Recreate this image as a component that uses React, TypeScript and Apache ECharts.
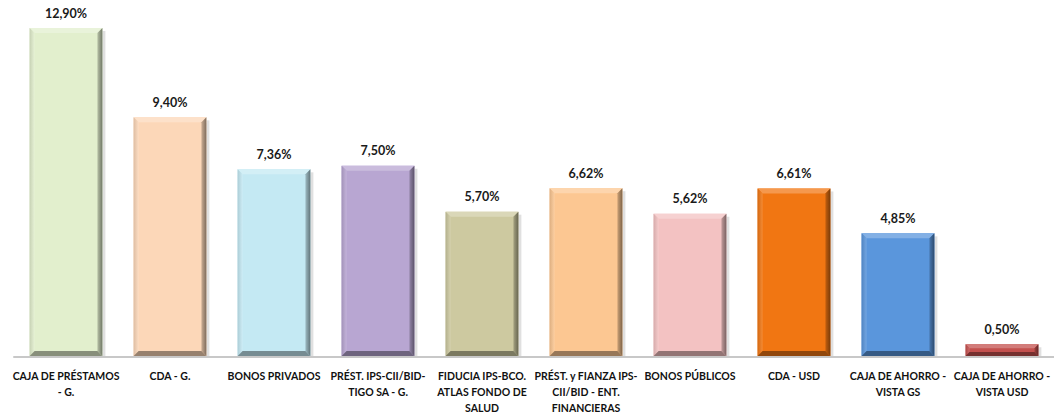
import React, { useEffect, useRef } from "react";
import * as echarts from "echarts";

const categories = [
  "CAJA DE PRÉSTAMOS\n- G.",
  "CDA - G.",
  "BONOS PRIVADOS",
  "PRÉST. IPS-CII/BID-\nTIGO SA - G.",
  "FIDUCIA IPS-BCO.\nATLAS FONDO DE\nSALUD",
  "PRÉST. y FIANZA IPS-\nCII/BID - ENT.\nFINANCIERAS",
  "BONOS PÚBLICOS",
  "CDA - USD",
  "CAJA DE AHORRO -\nVISTA GS",
  "CAJA DE AHORRO -\nVISTA USD",
];
const values = [12.9, 9.4, 7.36, 7.5, 5.7, 6.62, 5.62, 6.61, 4.85, 0.5];
const colors = [
  "#e2efcd",
  "#fcd7b8",
  "#c4e9f3",
  "#b8a6d2",
  "#cdc9a0",
  "#fcc792",
  "#f3c2c2",
  "#f17612",
  "#5a96dc",
  "#c3504e",
];

const FONT = "Lato, 'Liberation Sans', sans-serif";

function shade(hex: string, f: number): string {
  const n = parseInt(hex.slice(1), 16);
  let r = (n >> 16) & 255, g = (n >> 8) & 255, b = n & 255;
  if (f >= 0) {
    r = r + (255 - r) * f; g = g + (255 - g) * f; b = b + (255 - b) * f;
  } else {
    r = r * (1 + f); g = g * (1 + f); b = b * (1 + f);
  }
  return `rgb(${Math.round(r)},${Math.round(g)},${Math.round(b)})`;
}

const fmt = (v: number) => v.toFixed(2).replace(".", ",") + "%";

export default function App() {
  const ref = useRef<HTMLDivElement>(null);
  useEffect(() => {
    if (!ref.current) return;
    const chart = echarts.init(ref.current, null, { renderer: "svg" });
    chart.setOption({
      animation: false,
      grid: { left: 14, width: 1042, top: 0, bottom: 58, containLabel: false },
      xAxis: {
        type: "category",
        data: categories,
        axisLine: { lineStyle: { color: "#c8c8c8", width: 2 } },
        axisTick: { show: false },
        axisLabel: {
          interval: 0,
          margin: 11,
          color: "#111111",
          fontWeight: "bold",
          fontSize: 10.5,
          fontFamily: FONT,
          lineHeight: 16,
          verticalAlign: "top",
        },
      },
      yAxis: {
        type: "value",
        min: 0,
        max: 14,
        show: false,
        splitLine: { show: false },
      },
      series: [
        {
          type: "custom",
          data: values.map((v, i) => [i, v]),
          z: 3,
          renderItem: (params: any, api: any) => {
            const idx = api.value(0);
            const v = api.value(1);
            const top = api.coord([idx, v]);
            const base = api.coord([idx, 0]);
            const bw = api.size([1, 0])[0] * 0.7;
            const x0 = top[0] - bw / 2;
            const x1 = top[0] + bw / 2;
            const y0 = top[1];
            const y1 = base[1] - 1;
            const h = y1 - y0;
            const b = Math.min(5, h / 3);
            const c = colors[params.dataIndex];
            return {
              type: "group",
              children: [
                {
                  type: "rect",
                  shape: { x: x1, y: y0 + 3, width: 3, height: h - 3 },
                  style: { fill: "rgba(0,0,0,0.12)" },
                },
                {
                  type: "rect",
                  shape: { x: x0, y: y0, width: bw, height: h },
                  style: { fill: c },
                },
                {
                  type: "polygon",
                  shape: { points: [[x0, y0], [x1, y0], [x1 - b, y0 + b], [x0 + b, y0 + b]] },
                  style: { fill: shade(c, 0.25) },
                },
                {
                  type: "polygon",
                  shape: { points: [[x0, y0], [x0 + b, y0 + b], [x0 + b, y1 - b], [x0, y1]] },
                  style: {
                    fill: new echarts.graphic.LinearGradient(0, 0, 1, 0, [
                      { offset: 0, color: shade(c, -0.12) },
                      { offset: 1, color: shade(c, 0.15) },
                    ]),
                  },
                },
                {
                  type: "polygon",
                  shape: { points: [[x1, y0], [x1 - b, y0 + b], [x1 - b, y1 - b], [x1, y1]] },
                  style: {
                    fill: new echarts.graphic.LinearGradient(0, 0, 1, 0, [
                      { offset: 0, color: shade(c, -0.2) },
                      { offset: 1, color: shade(c, -0.5) },
                    ]),
                  },
                },
                {
                  type: "polygon",
                  shape: { points: [[x0, y1], [x0 + b, y1 - b], [x1 - b, y1 - b], [x1, y1]] },
                  style: { fill: shade(c, -0.4) },
                },
                {
                  type: "text",
                  x: top[0],
                  y: y0 - 15,
                  style: {
                    text: fmt(v),
                    textAlign: "center",
                    textVerticalAlign: "middle",
                    fill: "#1a1a1a",
                    font: `bold 12.5px ${FONT}`,
                  },
                },
              ],
            };
          },
        },
      ],
    });
    return () => chart.dispose();
  }, []);
  return (
    <div
      ref={ref}
      style={{ position: "absolute", left: 0, top: 0, width: 1054, height: 416 }}
    />
  );
}
